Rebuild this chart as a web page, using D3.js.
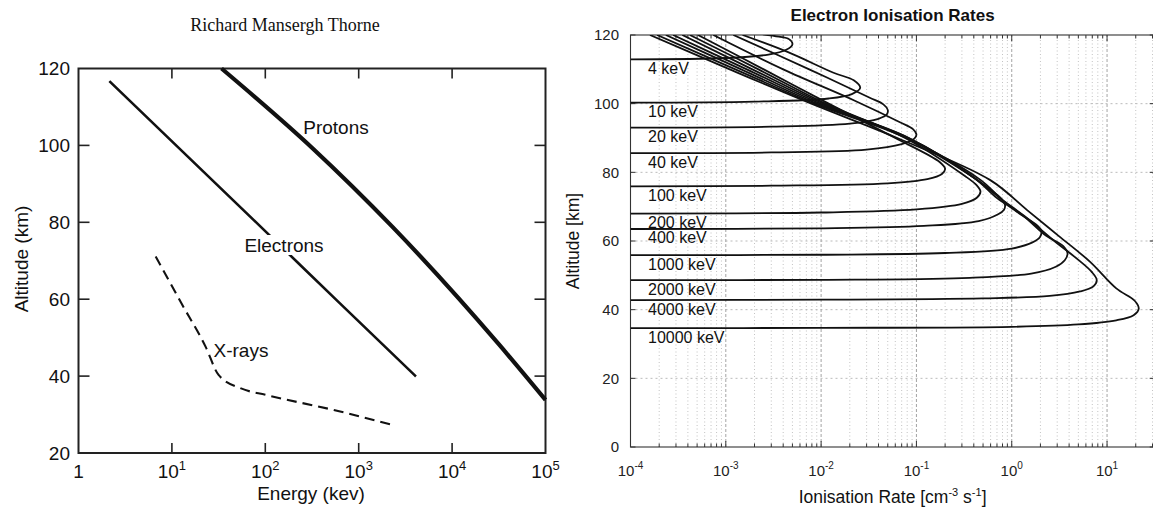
<!DOCTYPE html>
<html>
<head>
<meta charset="utf-8">
<script src="https://cdn.jsdelivr.net/npm/d3@7"></script>
<style>
  body { margin: 0; background: #fff; }
  svg { display: block; }
</style>
</head>
<body>
<svg id="fig" width="1153" height="517"></svg>
<script>
// ---------- Left panel: stopping altitude versus particle energy ----------
const energyTicks = [1, 10, 100, 1000, 10000, 100000];
const altTicksLeft = [20, 40, 60, 80, 100, 120];
// [energy keV, altitude km]
const protons = [[34, 120], [316, 99.4], [2300, 78.8], [31600, 48.3], [100000, 33.8]];
const electrons = [[2.14, 116.7], [105, 77.2], [630, 58.9], [4100, 39.9]];
const xrays = [[6.7, 71.1], [12.6, 59], [23, 47.6], [31.6, 40.3], [55, 36.8], [102, 35.1], [537, 31.2], [2300, 27.3]];

// ---------- Right panel: electron ionisation rate profiles ----------
const rateDecades = [1e-4, 1e-3, 1e-2, 1e-1, 1, 10];
const altTicksRight = [0, 20, 40, 60, 80, 100, 120];
const energyLabels = ["4 keV", "10 keV", "20 keV", "40 keV", "100 keV", "200 keV", "400 keV", "1000 keV", "2000 keV", "4000 keV", "10000 keV"];
// [ionisation rate cm^-3 s^-1, altitude km]
const profile4 = [[1e-4, 112.9], [1e-3, 113.3], [2.8e-3, 114.3], [4.3e-3, 115.7], [5.0e-3, 117.3], [4.6e-3, 118.8], [3.6e-3, 119.5], [2.45e-3, 120.2]];
const profile10 = [[1e-4, 100.3], [2e-3, 100.6], [0.012, 101.5], [0.021, 102.8], [0.0257, 104.6], [0.022, 106.8], [0.0135, 109], [4.5e-3, 115], [1.5e-3, 120]];
const profile20 = [[1e-4, 93.0], [3e-3, 93.3], [0.02, 94.2], [0.04, 95.6], [0.049, 96.9], [0.05, 98.2], [0.045, 99.8], [0.032, 101.8], [7.5e-3, 110], [1.2e-3, 120]];
const profile40 = [[1e-4, 85.6], [3e-3, 85.8], [0.03, 86.6], [0.07, 88.2], [0.095, 89.8], [0.1, 91], [0.092, 92.6], [0.068, 94.5], [0.022, 101], [4e-3, 110], [7.4e-4, 120]];
const profile100 = [[1e-4, 75.9], [3e-3, 76.1], [0.05, 76.8], [0.13, 78.0], [0.185, 79.5], [0.2, 81], [0.175, 83], [0.06, 90], [0.012, 100], [2.5e-3, 110], [5.1e-4, 120]];
const profile200 = [[1e-4, 68.0], [1e-2, 68.3], [0.1, 69.2], [0.3, 70.8], [0.43, 72.6], [0.47, 74.4], [0.43, 76.2], [0.32, 79], [0.076, 90], [0.0112, 100], [2.2e-3, 110], [4.2e-4, 120]];
const profile400 = [[1e-4, 63.5], [1e-2, 63.7], [0.12, 64.4], [0.45, 65.8], [0.72, 67.8], [0.83, 69.1], [0.85, 70.5], [0.78, 72.3], [0.56, 75.5], [0.35, 79.5], [0.079, 90], [0.0105, 100], [1.9e-3, 110], [3.5e-4, 120]];
const profile1000 = [[1e-4, 55.9], [1e-2, 56.0], [0.2, 56.5], [1.0, 57.8], [1.65, 59.6], [1.98, 61.2], [2.05, 62.9], [1.86, 64.5], [1.2, 68], [0.75, 72.5], [0.4, 78.5], [0.083, 90], [9.8e-3, 100], [1.66e-3, 110], [2.8e-4, 120]];
const profile2000 = [[1e-4, 48.6], [1e-2, 48.7], [0.3, 49.2], [1.6, 50.5], [2.9, 52.5], [3.6, 54.4], [3.85, 56.4], [3.45, 58.6], [2.3, 61.5], [1.3, 67.5], [0.7, 72.5], [0.42, 78], [0.083, 90], [9.1e-3, 100], [1.45e-3, 110], [2.35e-4, 120]];
const profile4000 = [[1e-4, 42.8], [1e-2, 42.9], [0.5, 43.3], [2.5, 44.0], [5.2, 45.3], [7.2, 46.8], [7.8, 48.6], [6.9, 51], [5.0, 54.5], [2.8, 60], [1.4, 67], [0.76, 72.5], [0.47, 77.8], [0.079, 90], [8.5e-3, 100], [1.26e-3, 110], [1.9e-4, 120]];
const profile10000 = [[1e-4, 34.6], [1e-2, 34.7], [1, 35.0], [5, 35.7], [12.5, 36.9], [19, 38.4], [21.5, 40.3], [19.5, 42.6], [12.5, 46.2], [6.6, 54], [3.1, 61.5], [1.45, 69], [0.59, 77.8], [0.063, 90], [7.9e-3, 100], [1.1e-3, 110], [1.6e-4, 120]];

const profiles = [profile4, profile10, profile20, profile40, profile100, profile200, profile400,
                  profile1000, profile2000, profile4000, profile10000];

const svg = d3.select("#fig");
const SANS = "'Liberation Sans', Arial, Helvetica, sans-serif";

// ======================= left panel =======================
const xL = d3.scaleLog().domain([1, 1e5]).range([78.5, 545.5]);
const yL = d3.scaleLinear().domain([20, 120]).range([453, 68.5]);
const gL = svg.append("g").attr("font-family", SANS).attr("fill", "#111");

gL.append("text")
  .attr("x", 285).attr("y", 31).attr("text-anchor", "middle")
  .attr("font-family", "'Liberation Serif', 'Times New Roman', serif")
  .attr("font-size", 18).text("Richard Mansergh Thorne");

// tick marks on all four sides, pointing inwards
const tickL = gL.append("g").attr("stroke", "#222").attr("stroke-width", 1.6);
energyTicks.slice(1, -1).forEach(v => {
  tickL.append("line").attr("x1", xL(v)).attr("x2", xL(v)).attr("y1", yL(20)).attr("y2", yL(20) - 10);
  tickL.append("line").attr("x1", xL(v)).attr("x2", xL(v)).attr("y1", yL(120)).attr("y2", yL(120) + 10);
});
altTicksLeft.slice(1, -1).forEach(v => {
  tickL.append("line").attr("x1", xL(1)).attr("x2", xL(1) + 11).attr("y1", yL(v)).attr("y2", yL(v));
  tickL.append("line").attr("x1", xL(1e5)).attr("x2", xL(1e5) - 11).attr("y1", yL(v)).attr("y2", yL(v));
});

gL.append("rect")
  .attr("x", xL(1)).attr("y", yL(120))
  .attr("width", xL(1e5) - xL(1)).attr("height", yL(20) - yL(120))
  .attr("fill", "none").attr("stroke", "#222").attr("stroke-width", 2);

// tick labels
energyTicks.forEach(v => {
  const t = gL.append("text").attr("x", xL(v)).attr("y", 478)
    .attr("text-anchor", "middle").attr("font-size", 19);
  const e = Math.round(Math.log10(v));
  if (e === 0) { t.text("1"); }
  else {
    t.append("tspan").text("10");
    t.append("tspan").attr("dy", -8).attr("font-size", 13).text(e);
  }
});
altTicksLeft.forEach(v => {
  gL.append("text").attr("x", 70).attr("y", yL(v)).attr("dy", "0.35em")
    .attr("text-anchor", "end").attr("font-size", 19).text(v);
});

gL.append("text").attr("x", 311).attr("y", 500).attr("text-anchor", "middle")
  .attr("font-size", 19).text("Energy  (kev)");
gL.append("text").attr("transform", "translate(28,259) rotate(-90)")
  .attr("text-anchor", "middle").attr("font-size", 19).text("Altitude  (km)");

const lineL = d3.line().x(d => xL(d[0])).y(d => yL(d[1])).curve(d3.curveMonotoneX);

gL.append("path").datum(protons).attr("d", lineL)
  .attr("fill", "none").attr("stroke", "#111").attr("stroke-width", 4.2);
gL.append("path").datum(electrons).attr("d", lineL)
  .attr("fill", "none").attr("stroke", "#111").attr("stroke-width", 2.6);
gL.append("path").datum(xrays).attr("d", lineL)
  .attr("fill", "none").attr("stroke", "#111").attr("stroke-width", 2.1)
  .attr("stroke-dasharray", "10,6");

// curve captions (the electron line is interrupted by its caption)
gL.append("rect").attr("x", 243).attr("y", 235).attr("width", 84).attr("height", 20).attr("fill", "#fff");
gL.append("text").attr("x", 336).attr("y", 134).attr("text-anchor", "middle").attr("font-size", 19).text("Protons");
gL.append("text").attr("x", 284).attr("y", 252).attr("text-anchor", "middle").attr("font-size", 19).text("Electrons");
gL.append("text").attr("x", 241).attr("y", 357).attr("text-anchor", "middle").attr("font-size", 19).text("X-rays");

// ======================= right panel =======================
const xR = d3.scaleLog().domain([1e-4, 31.62]).range([630.5, 1154.7]);
const yR = d3.scaleLinear().domain([0, 120]).range([447, 35]);
const gR = svg.append("g").attr("font-family", SANS).attr("fill", "#111");
const x0 = xR.range()[0], x1 = xR.range()[1];
const y0 = yR.range()[0], y1 = yR.range()[1];

// grid
const allRateTicks = xR.ticks();
const gridR = gR.append("g").attr("fill", "none");
allRateTicks.forEach(v => {
  const major = rateDecades.includes(v);
  gridR.append("line").attr("x1", xR(v)).attr("x2", xR(v)).attr("y1", y0).attr("y2", y1)
    .attr("stroke", major ? "#9a9a9a" : "#b4b4b4")
    .attr("stroke-width", major ? 0.9 : 0.8)
    .attr("stroke-dasharray", major ? "3,2" : "1,2.5");
});
altTicksRight.slice(1, -1).forEach(v => {
  gridR.append("line").attr("x1", x0).attr("x2", x1).attr("y1", yR(v)).attr("y2", yR(v))
    .attr("stroke", "#a8a8a8").attr("stroke-width", 0.8).attr("stroke-dasharray", "2,3");
});

// ticks
const tickR = gR.append("g").attr("stroke", "#333").attr("stroke-width", 1);
allRateTicks.forEach(v => {
  const len = rateDecades.includes(v) ? 6 : 3.5;
  tickR.append("line").attr("x1", xR(v)).attr("x2", xR(v)).attr("y1", y0).attr("y2", y0 - len);
  tickR.append("line").attr("x1", xR(v)).attr("x2", xR(v)).attr("y1", y1).attr("y2", y1 + len);
});
altTicksRight.forEach(v => {
  tickR.append("line").attr("x1", x0).attr("x2", x0 + 5).attr("y1", yR(v)).attr("y2", yR(v));
  tickR.append("line").attr("x1", x1).attr("x2", x1 - 5).attr("y1", yR(v)).attr("y2", yR(v));
});

gR.append("rect").attr("x", x0).attr("y", y1).attr("width", x1 - x0).attr("height", y0 - y1)
  .attr("fill", "none").attr("stroke", "#333").attr("stroke-width", 1.1);

// tick labels
rateDecades.forEach(v => {
  const t = gR.append("text").attr("x", xR(v)).attr("y", 476)
    .attr("text-anchor", "middle").attr("font-size", 15).attr("fill", "#222");
  t.append("tspan").text("10");
  t.append("tspan").attr("dy", -7).attr("font-size", 10).text(Math.round(Math.log10(v)));
});
altTicksRight.forEach(v => {
  gR.append("text").attr("x", 619).attr("y", yR(v)).attr("dy", "0.35em")
    .attr("text-anchor", "end").attr("font-size", 15).attr("fill", "#222").text(v);
});

gR.append("text").attr("x", (x0 + x1) / 2).attr("y", 21).attr("text-anchor", "middle")
  .attr("font-size", 17).attr("font-weight", "bold").text("Electron Ionisation Rates");
gR.append("text").attr("transform", `translate(579,${(y0 + y1) / 2}) rotate(-90)`)
  .attr("text-anchor", "middle").attr("font-size", 17.5).text("Altitude [km]");
const xt = gR.append("text").attr("x", (x0 + x1) / 2).attr("y", 503).attr("text-anchor", "middle").attr("font-size", 17.5);
xt.append("tspan").text("Ionisation Rate [cm");
xt.append("tspan").attr("dy", -7).attr("font-size", 11).text("-3");
xt.append("tspan").attr("dy", 7).text(" s");
xt.append("tspan").attr("dy", -7).attr("font-size", 11).text("-1");
xt.append("tspan").attr("dy", 7).text("]");

// profiles
svg.append("defs").append("clipPath").attr("id", "plotR")
  .append("rect").attr("x", x0).attr("y", y1).attr("width", x1 - x0).attr("height", y0 - y1);

const lineR = d3.line().x(d => xR(d[0])).y(d => yR(d[1])).curve(d3.curveCatmullRom.alpha(0.5));
gR.append("g").attr("clip-path", "url(#plotR)")
  .selectAll("path").data(profiles).join("path")
  .attr("d", lineR).attr("fill", "none").attr("stroke", "#111").attr("stroke-width", 1.8);

// energy captions just below each profile's lower edge
profiles.forEach((p, i) => {
  gR.append("text").attr("x", 648).attr("y", yR(p[0][1]) + 14.5)
    .attr("font-size", 16).text(energyLabels[i]);
});
</script>
</body>
</html>
